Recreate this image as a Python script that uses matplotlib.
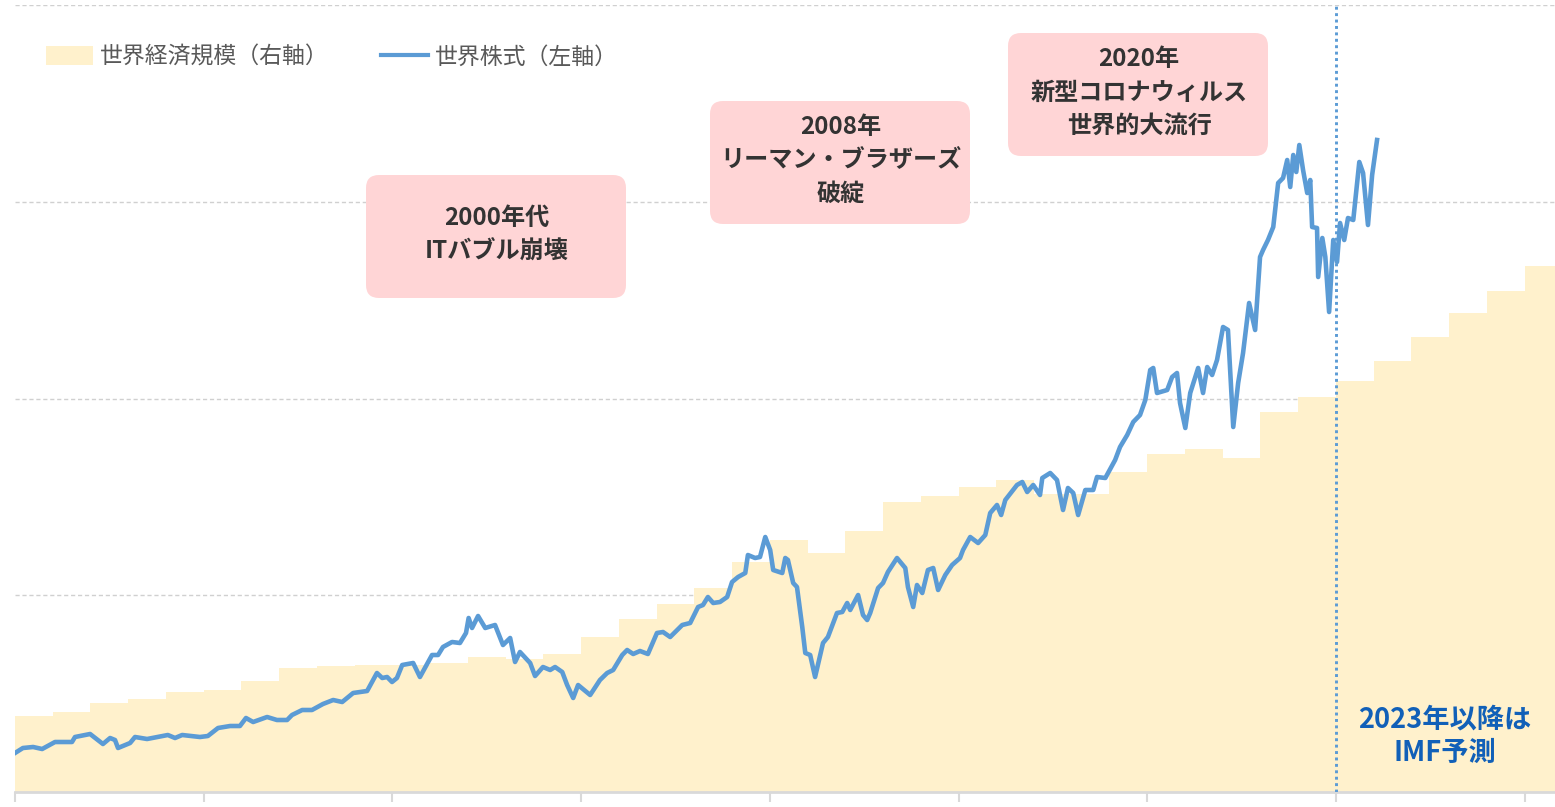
import matplotlib
matplotlib.use('Agg')
import matplotlib.pyplot as plt
from matplotlib.patches import FancyBboxPatch, Patch
from matplotlib.lines import Line2D

plt.rcParams['font.family'] = ['Noto Sans CJK JP', 'DejaVu Sans']

# ---------------- data ----------------
gdp_years = list(range(1988, 2029))
gdp_values = [19.3, 20.3, 22.6, 23.6, 25.4, 25.9, 28.2, 31.5, 32.0, 32.3,
              32.3, 32.8, 34.3, 33.8, 35.1, 39.4, 44.0, 47.8, 51.8, 58.4,
              64.0, 60.7, 66.3, 73.7, 75.2, 77.5, 79.3, 75.7, 75.7, 81.3,
              85.9, 87.2, 84.9, 96.6, 100.4, 104.4, 109.5, 115.6, 121.7, 127.3,
              133.7]

stock_years = [
    1988.00, 1988.21, 1988.48, 1988.72, 1989.06, 1989.51, 1989.59, 1989.99,
    1990.33, 1990.52, 1990.65, 1990.73, 1991.05, 1991.18, 1991.50, 1992.05,
    1992.24, 1992.43, 1992.90, 1993.11, 1993.38, 1993.70, 1993.96, 1994.12,
    1994.31, 1994.68, 1994.94, 1995.21, 1995.34, 1995.61, 1995.87, 1996.16,
    1996.43, 1996.67, 1996.96, 1997.33, 1997.59, 1997.73, 1997.86, 1997.99,
    1998.12, 1998.26, 1998.55, 1998.73, 1999.05, 1999.21, 1999.34, 1999.58,
    1999.79, 1999.95, 2000.02, 2000.11, 2000.27, 2000.46, 2000.72, 2000.93,
    2001.12, 2001.25, 2001.38, 2001.65, 2001.78, 2001.99, 2002.18, 2002.31,
    2002.50, 2002.63, 2002.79, 2002.92, 2003.24, 2003.50, 2003.69, 2003.85,
    2004.09, 2004.22, 2004.38, 2004.56, 2004.77, 2005.01, 2005.17, 2005.36,
    2005.68, 2005.89, 2006.10, 2006.23, 2006.36, 2006.50, 2006.68, 2006.87,
    2007.00, 2007.16, 2007.35, 2007.42, 2007.61, 2007.74, 2007.88, 2008.01,
    2008.09, 2008.33, 2008.41, 2008.48, 2008.62, 2008.72, 2008.86, 2008.94,
    2009.07, 2009.20, 2009.41, 2009.54, 2009.68, 2009.78, 2009.92, 2010.05,
    2010.13, 2010.34, 2010.47, 2010.58, 2010.66, 2010.87, 2011.00, 2011.13,
    2011.37, 2011.59, 2011.66, 2011.80, 2011.90, 2012.04, 2012.19, 2012.33,
    2012.46, 2012.65, 2012.83, 2013.04, 2013.12, 2013.31, 2013.52, 2013.71,
    2013.84, 2014.02, 2014.13, 2014.24, 2014.55, 2014.69, 2014.82, 2014.98,
    2015.16, 2015.22, 2015.43, 2015.61, 2015.77, 2015.90, 2016.04, 2016.17,
    2016.36, 2016.57, 2016.67, 2016.89, 2017.15, 2017.28, 2017.47, 2017.63,
    2017.81, 2017.95, 2018.08, 2018.16, 2018.26, 2018.53, 2018.66, 2018.79,
    2018.87, 2019.01, 2019.14, 2019.35, 2019.48, 2019.59, 2019.72, 2019.85,
    2020.01, 2020.14, 2020.28, 2020.41, 2020.54, 2020.70, 2020.86, 2020.99,
    2021.07, 2021.20, 2021.34, 2021.47, 2021.60, 2021.71, 2021.79, 2021.87,
    2021.95, 2022.03, 2022.13, 2022.24, 2022.32, 2022.37, 2022.50, 2022.53,
    2022.64, 2022.72, 2022.82, 2022.93, 2023.03, 2023.11, 2023.22, 2023.32,
    2023.46, 2023.62, 2023.72, 2023.85, 2023.96, 2024.09]
stock_values = [
    39, 44, 45, 43, 50, 50, 55, 58,
    48, 54, 52, 44, 49, 55, 53, 57,
    54, 57, 55, 56, 64, 66, 66, 74,
    70, 75, 72, 72, 77, 82, 82, 88,
    92, 90, 99, 101, 119, 114, 115, 110,
    114, 127, 129, 115, 137, 137, 145, 150,
    149, 159, 174, 164, 176, 164, 167, 147,
    154, 130, 140, 129, 116, 125, 122, 125,
    120, 107, 94, 107, 97, 112, 119, 122,
    137, 142, 138, 141, 138, 159, 160, 155,
    167, 169, 185, 187, 195, 189, 190, 195,
    210, 215, 219, 237, 234, 235, 255, 242,
    222, 219, 234, 232, 209, 205, 165, 139,
    137, 115, 149, 155, 169, 179, 180, 189,
    182, 197, 177, 172, 179, 204, 209, 220,
    234, 224, 205, 185, 207, 199, 222, 224,
    202, 217, 227, 234, 242, 255, 249, 257,
    279, 287, 277, 292, 307, 310, 300, 307,
    297, 314, 319, 312, 282, 304, 299, 277,
    302, 302, 315, 314, 332, 345, 357, 370,
    377, 392, 422, 424, 399, 402, 415, 419,
    389, 364, 399, 424, 399, 425, 417, 432,
    465, 462, 365, 409, 439, 489, 462, 535,
    542, 552, 565, 609, 614, 632, 605, 637,
    620, 647, 622, 599, 612, 565, 564, 515,
    554, 535, 480, 552, 530, 569, 552, 574,
    572, 630, 619, 567, 617, 652]

tick_years = list(range(1988, 2029, 5))
forecast_start = 2023

legend_labels = ['世界経済規模（右軸）', '世界株式（左軸）']
events = [
    ('2000年代\nITバブル崩壊', (366, 175, 260, 123)),
    ('2008年\nリーマン・ブラザーズ\n破綻', (710, 101, 260, 123)),
    ('2020年\n新型コロナウィルス\n世界的大流行', (1008, 33, 260, 123)),
]
forecast_note = '2023年以降は\nIMF予測'

# ---------------- style ----------------
AREA = '#FFF1CC'
LINE = '#5B9BD5'
BOX = '#FFD5D6'
GRID = '#D0D0D0'
AXIS = '#D9D9D9'

W, H = 1555, 807
fig = plt.figure(figsize=(W / 100, H / 100), dpi=100)
ax = fig.add_axes([15 / W, (H - 792) / H, (W - 15) / W, (792 - 5) / H])
ax2 = ax.twinx()

# GDP step area (right scale)
xs = gdp_years + [gdp_years[-1] + 1]
ys = gdp_values + [gdp_values[-1]]
ax.fill_between(xs, 0, ys, step='post', color=AREA, linewidth=0, zorder=1)
ax.set_ylim(0, 200)
ax.set_yticks([50, 100, 150, 200])
ax.set_axisbelow(True)
ax.yaxis.grid(True, color=GRID, linestyle=(0, (3, 2)), linewidth=1.0)
ax.tick_params(axis='y', left=False, right=False, labelleft=False, labelright=False)

ax.set_xlim(1988, 1988 + (W - 15) / 37.74)
ax.set_xticks(tick_years)
ax.tick_params(axis='x', direction='out', length=7, width=1.5, color=AXIS,
               labelbottom=False)
for s in ['top', 'right', 'left']:
    ax.spines[s].set_visible(False)
ax.spines['bottom'].set_color(AXIS)
ax.spines['bottom'].set_linewidth(2)

# stock line (left scale)
ax2.plot(stock_years, stock_values, color=LINE, linewidth=3.3, zorder=3,
         solid_joinstyle='round')
ax2.set_ylim(0, 787)
ax2.axvline(forecast_start, color=LINE, linewidth=2.1, linestyle=(0, (1.0, 1.2)),
            zorder=4)
ax2.tick_params(axis='y', left=False, right=False, labelleft=False, labelright=False)
for s in ['top', 'right', 'left', 'bottom']:
    ax2.spines[s].set_visible(False)

# legend
handles = [Patch(facecolor=AREA, edgecolor='none'),
           Line2D([], [], color=LINE, linewidth=3)]
leg = ax2.legend(handles, legend_labels, loc='center left',
                 bbox_to_anchor=(46 / W, (H - 57) / H), bbox_transform=fig.transFigure,
                 ncol=2, frameon=False, fontsize=16.5, labelcolor='#595959',
                 handlelength=2.05, handleheight=0.9, handletextpad=0.3,
                 columnspacing=2.3, borderpad=0, borderaxespad=0)

# overlay for annotation boxes (pixel layout)
oax = fig.add_axes([0, 0, 1, 1], facecolor='none')
oax.set_xlim(0, W)
oax.set_ylim(H, 0)
oax.axis('off')
for text, (x0, y0, bw, bh) in events:
    oax.add_patch(FancyBboxPatch((x0, y0), bw, bh,
                                 boxstyle='round,pad=0,rounding_size=13',
                                 facecolor=BOX, edgecolor='none'))
    oax.text(x0 + bw / 2 + 1, y0 + bh / 2 - 2, text, ha='center', va='center',
             fontsize=17.4, fontweight='bold', color='#333333', linespacing=1.5)

oax.text(1445, 736, forecast_note, ha='center', va='center',
         fontsize=19.6, fontweight='bold', color='#1160B8', linespacing=1.25)

fig.savefig('out.png', dpi=100)
